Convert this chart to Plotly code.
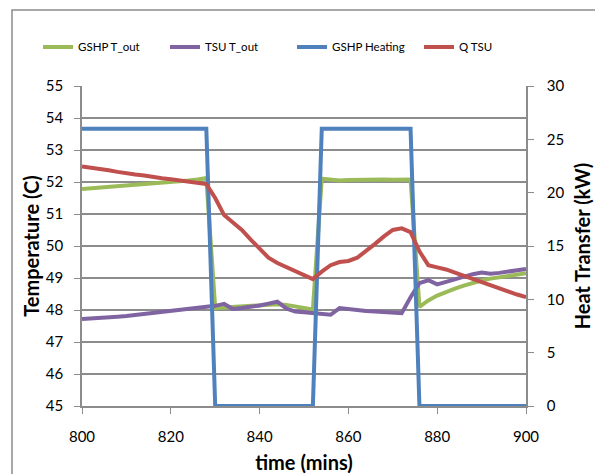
import plotly.graph_objects as go

# ---- data ----
time_mins = list(range(800, 901, 2))

gshp_t_out = [51.78, 51.80, 51.82, 51.84, 51.86, 51.88, 51.90, 51.92, 51.94, 51.96,
              51.99, 52.02, 52.05, 52.08, 52.12,
              48.06, 48.08, 48.10, 48.11, 48.12, 48.13, 48.15, 48.18, 48.16, 48.12, 48.08, 48.02,
              52.10, 52.06, 52.05, 52.06, 52.07, 52.08, 52.09, 52.08, 52.07, 52.07, 52.08,
              48.10, 48.30, 48.45, 48.57, 48.67, 48.76, 48.85, 48.92, 48.98, 49.03, 49.07, 49.11, 49.15]

tsu_t_out = [47.72, 47.73, 47.75, 47.77, 47.79, 47.81, 47.84, 47.86, 47.89, 47.92,
             47.95, 47.98, 48.02, 48.06, 48.10, 48.13, 48.19, 48.03, 48.06, 48.09,
             48.14, 48.20, 48.26, 48.05, 47.95, 47.93, 47.91, 47.88, 47.85, 48.06,
             48.02, 47.99, 47.97, 47.95, 47.93, 47.91, 47.90, 48.40, 48.84, 48.93,
             48.80, 48.88, 48.97, 49.05, 49.12, 49.17, 49.13, 49.16, 49.20, 49.24, 49.28]

gshp_heating = [26] * 15 + [0] * 12 + [26] * 11 + [0] * 13

q_tsu = [22.45, 22.35, 22.25, 22.10, 21.95, 21.80, 21.70, 21.60, 21.45, 21.35,
         21.25, 21.15, 21.05, 20.95, 20.80, 19.50, 17.90, 17.20, 16.50, 15.60,
         14.70, 13.90, 13.40, 13.00, 12.70, 12.30, 11.90, 12.60, 13.20, 13.50,
         13.60, 13.90, 14.50, 15.20, 15.90, 16.50, 16.65, 16.30, 14.50, 13.20,
         13.00, 12.80, 12.50, 12.20, 11.90, 11.60, 11.30, 11.00, 10.70, 10.45, 10.20]

temp_ticks = list(range(45, 56))
heat_ticks = [0, 5, 10, 15, 20, 25, 30]
time_ticks = [800, 820, 840, 860, 880, 900]

FONT = "Lato, 'Open Sans', sans-serif"
GRID = "#8c8c8c"

fig = go.Figure()
fig.add_trace(go.Scatter(x=time_mins, y=gshp_t_out, name="GSHP T_out", mode="lines",
                         line=dict(color="#9BBB59", width=4), yaxis="y"))
fig.add_trace(go.Scatter(x=time_mins, y=tsu_t_out, name="TSU T_out", mode="lines",
                         line=dict(color="#8064A2", width=4), yaxis="y"))
fig.add_trace(go.Scatter(x=time_mins, y=gshp_heating, name="GSHP Heating", mode="lines",
                         line=dict(color="#4F81BD", width=4), yaxis="y2"))
fig.add_trace(go.Scatter(x=time_mins, y=q_tsu, name="Q TSU", mode="lines",
                         line=dict(color="#C0504D", width=4), yaxis="y2"))

fig.update_layout(
    width=595, height=474,
    margin=dict(l=82, r=69, t=86, b=68),
    paper_bgcolor="white", plot_bgcolor="white",
    font=dict(family=FONT, size=15, color="black"),
    showlegend=True,
    legend=dict(orientation="h", x=(38 - 82) / 444, xanchor="left", y=1.122, yanchor="middle",
                font=dict(size=11.5), entrywidth=82, entrywidthmode="pixels", tracegroupgap=0),
    xaxis=dict(range=[800, 900], tickvals=time_ticks, showgrid=False, zeroline=False,
               showline=True, linecolor=GRID, linewidth=1.5, automargin=False,
               ticks="outside", ticklen=6, tickcolor=GRID, ticklabelstandoff=10,
               title=dict(text="<b>time (mins)</b>", font=dict(size=20), standoff=16)),
    yaxis=dict(range=[45, 55], tickvals=temp_ticks, showgrid=True, gridcolor=GRID, gridwidth=1.5,
               zeroline=False, showline=True, linecolor=GRID, linewidth=1.5, automargin=False,
               ticks="outside", ticklen=6, tickcolor=GRID, ticklabelstandoff=8,
               title=dict(text="<b>Temperature (C)</b>", font=dict(size=20), standoff=1)),
    yaxis2=dict(range=[0, 30], tickvals=heat_ticks, overlaying="y", side="right",
                showgrid=False, zeroline=False, showline=True, linecolor=GRID, linewidth=1.5,
                automargin=False,
                ticks="outside", ticklen=6, tickcolor=GRID, ticklabelstandoff=10,
                title=dict(text="<b>Heat Transfer (kW)</b>", font=dict(size=20), standoff=13)),
    shapes=[dict(type="rect", xref="paper", yref="paper",
                 x0=(12 - 82) / 444, x1=(640 - 82) / 444,
                 y0=(406 - 520) / 320, y1=(406 - 10) / 320,
                 line=dict(color="#8c8c8c", width=1.5), fillcolor="rgba(0,0,0,0)", layer="below")],
)

fig.write_html("out.html")
